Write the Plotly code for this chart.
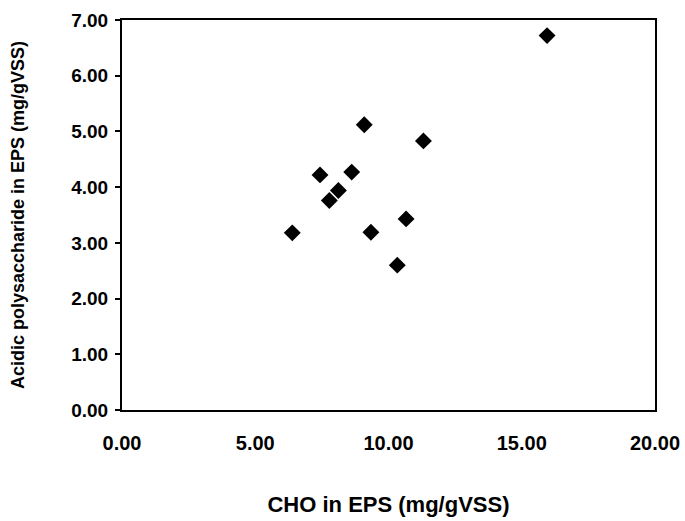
import plotly.graph_objects as go

# Data
cho_eps = [6.39, 7.43, 7.78, 8.12, 8.62, 9.09, 9.34, 10.33, 10.66, 11.31, 15.95]
acidic_ps = [3.18, 4.22, 3.76, 3.94, 4.27, 5.12, 3.19, 2.60, 3.43, 4.83, 6.72]

x_tickvals = [0, 5, 10, 15, 20]
x_ticktext = ["0.00", "5.00", "10.00", "15.00", "20.00"]
y_tickvals = [0, 1, 2, 3, 4, 5, 6, 7]
y_ticktext = ["0.00", "1.00", "2.00", "3.00", "4.00", "5.00", "6.00", "7.00"]

x_title = "CHO in EPS (mg/gVSS)"
y_title = "Acidic polysaccharide in EPS (mg/gVSS)"

font_family = "Liberation Sans, Arial, sans-serif"

fig = go.Figure()
fig.add_trace(go.Scatter(
    x=cho_eps, y=acidic_ps, mode="markers",
    marker=dict(symbol="diamond", size=13, color="black", line=dict(width=0)),
    showlegend=False,
))

fig.update_layout(
    width=685, height=521,
    margin=dict(l=122, r=30, t=20, b=111),
    paper_bgcolor="white", plot_bgcolor="white",
    font=dict(family=font_family, color="black", size=17),
)

fig.update_xaxes(
    range=[0, 20], tickvals=x_tickvals, ticktext=x_ticktext,
    showline=True, linecolor="black", linewidth=2, mirror=True,
    ticks="", showgrid=False, zeroline=False, automargin=False,
    tickfont=dict(family=font_family, size=20, color="black", weight="bold"),
    ticklabelstandoff=14,
    title=dict(text=x_title, font=dict(family=font_family, size=22, color="black", weight="bold"), standoff=44),
)
fig.update_yaxes(
    range=[0, 7], tickvals=y_tickvals, ticktext=y_ticktext,
    showline=True, linecolor="black", linewidth=2, mirror=True,
    ticks="outside", ticklen=5, tickwidth=1.5, tickcolor="black",
    showgrid=False, zeroline=False, automargin=False,
    tickfont=dict(family=font_family, size=19, color="black", weight="bold"),
    ticklabelstandoff=3,
    title=dict(text=y_title, font=dict(family=font_family, size=18, color="black", weight="bold"), standoff=42),
)

fig.write_html(
    "out.html",
    config={"displayModeBar": False},
    post_script="document.body.style.margin='0';document.body.style.overflow='hidden';",
)
